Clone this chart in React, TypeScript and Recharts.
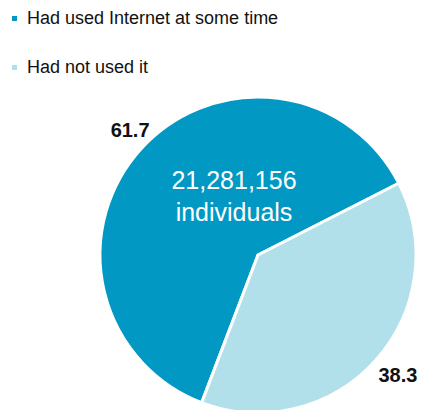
import React from "react";
import { PieChart, Pie, Cell } from "recharts";

const categories = ["Had used Internet at some time", "Had not used it"];
const shares = [61.7, 38.3];
const shareLabels = ["61.7", "38.3"];
const totalLabel = ["21,281,156", "individuals"];
const colors = ["#0199C3", "#B2E0EA"];

const data = categories.map((name, i) => ({ name, value: shares[i], label: shareLabels[i] }));

const RAD = Math.PI / 180;
const labelNudge = [
  { dx: 6, dy: -5 },
  { dx: 6, dy: 0 },
];

const renderLabel = (props: any) => {
  const { cx, cy, midAngle, outerRadius, index } = props;
  const r = outerRadius + 22;
  const x = cx + r * Math.cos(-midAngle * RAD) + labelNudge[index].dx;
  const y = cy + r * Math.sin(-midAngle * RAD) + labelNudge[index].dy;
  return (
    <g>
      <text
        x={x}
        y={y}
        textAnchor="middle"
        dominantBaseline="central"
        fontFamily="'Liberation Sans', Arial, sans-serif"
        fontWeight="bold"
        fontSize={20}
        fill="#111"
      >
        {data[index].label}
      </text>
      {index === 0 ? (
        <text
          x={cx - 24}
          textAnchor="middle"
          fontFamily="'Liberation Sans', Arial, sans-serif"
          fontSize={25}
          fill="#ffffff"
        >
          <tspan x={cx - 24} y={cy - 66}>{totalLabel[0]}</tspan>
          <tspan x={cx - 24} y={cy - 34}>{totalLabel[1]}</tspan>
        </text>
      ) : null}
    </g>
  );
};

const LegendBlock = () => (
  <div style={{ position: "absolute", left: 0, top: 0, width: 421, height: 90 }}>
    {categories.map((c, i) => (
      <div
        key={c}
        style={{
          position: "absolute",
          left: 12,
          top: 5 + i * 49,
          height: 26,
          display: "flex",
          alignItems: "center",
          fontFamily: "'Liberation Sans', Arial, sans-serif",
          fontSize: 18,
          color: "#111",
          whiteSpace: "nowrap",
        }}
      >
        <span
          style={{
            display: "inline-block",
            width: 5,
            height: 5,
            background: colors[i],
            marginRight: 10,
          }}
        />
        <span>{c}</span>
      </div>
    ))}
  </div>
);

export default function App() {
  return (
    <div style={{ position: "absolute", left: 0, top: 0, width: 421, height: 410, background: "#fff" }}>
      <PieChart width={421} height={410} margin={{ top: 0, right: 0, bottom: 0, left: 0 }}>
        <Pie
          data={data}
          dataKey="value"
          nameKey="name"
          cx={258}
          cy={255}
          outerRadius={158}
          startAngle={27}
          endAngle={387}
          stroke="#ffffff"
          strokeWidth={3}
          label={renderLabel}
          labelLine={false}
          isAnimationActive={false}
        >
          {data.map((d, i) => (
            <Cell key={d.name} fill={colors[i]} />
          ))}
        </Pie>
      </PieChart>
      <LegendBlock />
    </div>
  );
}
